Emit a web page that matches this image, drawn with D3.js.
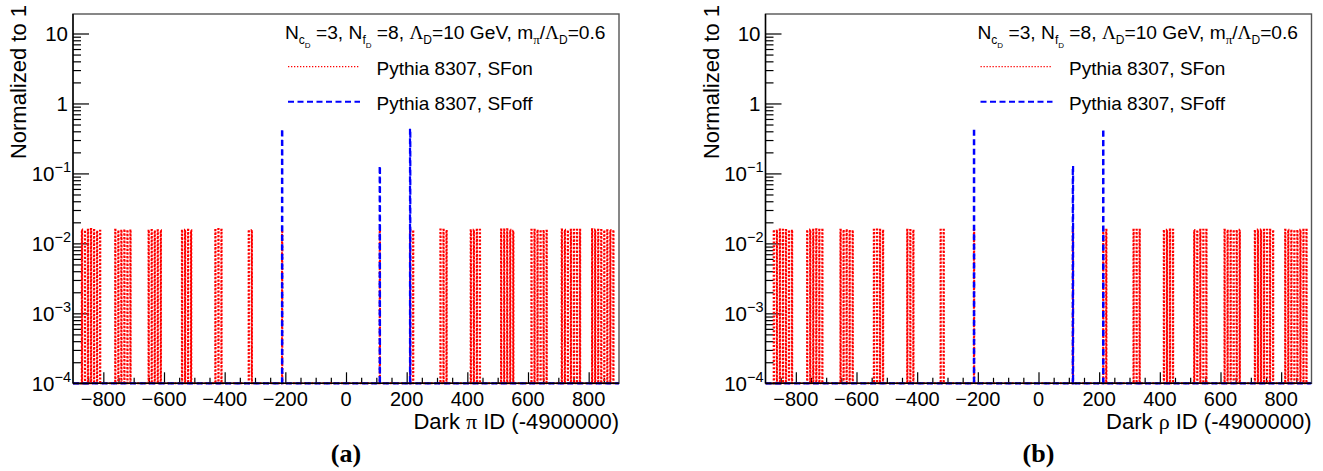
<!DOCTYPE html>
<html>
<head>
<meta charset="utf-8">
<script src="https://cdn.jsdelivr.net/npm/d3@7"></script>
<style>
  html, body { margin: 0; padding: 0; background: #fff; }
  svg { display: block; }
  text { font-family: "Liberation Sans", Arial, Helvetica, sans-serif; fill: #000; }
</style>
</head>
<body>
<svg id="chart" width="1323" height="471"></svg>
<script>
// ---------------- data ----------------
// Dark pion IDs (minus 4900000), SF on
const piSFonIds = [
  -871,-861,-851,-841,-831,-821,-811,
  -761,-751,-741,-731,-721,-711,
  -651,-641,-631,-621,-611,
  -541,-531,-521,-511,
  -431,-421,-411,
  -321,-311,
  -211,
  111,
  211,221,
  311,321,331,
  411,421,431,441,
  511,521,531,541,551,
  611,621,631,641,651,661,
  711,721,731,741,751,761,771,
  811,821,831,841,851,861,871,881
];
const piSFonVals = [
  0.0158,0.0154,0.0157,0.0160,0.0155,0.0153,0.0152,
  0.0157,0.0154,0.0158,0.0160,0.0157,0.0158,
  0.0157,0.0155,0.0153,0.0154,0.0154,
  0.0158,0.0157,0.0156,0.0154,
  0.0155,0.0161,0.0157,
  0.0157,0.0155,
  0.0156,
  0.0155,
  0.0157,0.0156,
  0.0158,0.0157,0.0156,
  0.0159,0.0157,0.0157,0.0157,
  0.0158,0.0158,0.0159,0.0156,0.0152,
  0.0157,0.0157,0.0157,0.0157,0.0156,0.0152,
  0.0158,0.0157,0.0155,0.0157,0.0157,0.0157,0.0157,
  0.0159,0.0158,0.0157,0.0155,0.0155,0.0154,0.0155,0.0156
];
// Dark pion IDs, SF off
const piSFoffIds = [-211, 111, 211];
const piSFoffVals = [0.435, 0.128, 0.437];

// Dark rho IDs (minus 4900000), SF on
const rhoSFonIds = [
  -873,-863,-853,-843,-833,-823,-813,
  -763,-753,-743,-733,-723,-713,
  -653,-643,-633,-623,-613,
  -543,-533,-523,-513,
  -433,-423,-413,
  -323,-313,
  -213,
  113,
  213,223,
  313,323,333,
  413,423,433,443,
  513,523,533,543,553,
  613,623,633,643,653,663,
  713,723,733,743,753,763,773,
  813,823,833,843,853,863,873,883
];
const rhoSFonVals = [
  0.0157,0.0156,0.0158,0.0157,0.0155,0.0156,0.0157,
  0.0156,0.0158,0.0157,0.0159,0.0157,0.0156,
  0.0156,0.0157,0.0160,0.0157,0.0155,
  0.0157,0.0158,0.0156,0.0157,
  0.0156,0.0155,0.0157,
  0.0157,0.0157,
  0.0156,
  0.0156,
  0.0157,0.0157,
  0.0156,0.0157,0.0157,
  0.0157,0.0157,0.0158,0.0157,
  0.0155,0.0156,0.0156,0.0157,0.0157,
  0.0157,0.0157,0.0158,0.0157,0.0157,0.0157,
  0.0157,0.0158,0.0158,0.0157,0.0157,0.0156,0.0156,
  0.0157,0.0157,0.0158,0.0157,0.0157,0.0157,0.0157,0.0156
];
const rhoSFoffIds = [-213, 113, 213];
const rhoSFoffVals = [0.445, 0.128, 0.432];

// axis ticks
const xMajorTicks = [-800,-600,-400,-200,0,200,400,600,800];
const yMajorTicks = [1e-4,1e-3,1e-2,1e-1,1,10];
const yTickLabels = [["10","−4"],["10","−3"],["10","−2"],["10","−1"],["1",null],["10",null]];
const xDomain = [-900, 900];
const yDomain = [1e-4, 19];

const legendEntries = ["Pythia 8307, SFon", "Pythia 8307, SFoff"];
const yTitle = "Normalized to 1";

const panels = [
  { left: 73, right: 619, caption: "(a)", particle: "π",
    on: [piSFonIds, piSFonVals], off: [piSFoffIds, piSFoffVals] },
  { left: 765.5, right: 1311.5, caption: "(b)", particle: "ρ",
    on: [rhoSFonIds, rhoSFonVals], off: [rhoSFoffIds, rhoSFoffVals] }
];

// ---------------- drawing ----------------
const svg = d3.select("#chart");
svg.append("rect").attr("width", 1323).attr("height", 471).attr("fill", "#fff");

const plotTop = 14, plotBottom = 383.3;

panels.forEach((p, pi) => {
  const g = svg.append("g");
  const x = d3.scaleLinear().domain(xDomain).range([p.left, p.right]);
  const y = d3.scaleLog().domain(yDomain).range([plotBottom, plotTop]);

  const clipId = "clip" + pi;
  svg.append("clipPath").attr("id", clipId).append("rect")
    .attr("x", p.left).attr("y", plotTop - 1).attr("width", p.right - p.left).attr("height", plotBottom - plotTop + 3);

  // frame (top/right)
  g.append("rect").attr("x", p.left).attr("y", plotTop).attr("width", p.right - p.left).attr("height", plotBottom - plotTop)
    .attr("fill", "none").attr("stroke", "#555").attr("stroke-width", 1.4);

  // x ticks
  const xMinor = d3.range(xDomain[0] + 50, xDomain[1], 50).filter(v => v % 200 !== 0);
  g.append("g").attr("transform", `translate(0,${plotBottom})`)
    .call(d3.axisBottom(x).tickValues(xMinor).tickSizeInner(-5.5).tickSizeOuter(0).tickFormat(""))
    .call(a => a.select(".domain").remove())
    .call(a => a.selectAll("line").attr("stroke", "#000").attr("stroke-width", 1.2));
  g.append("g").attr("transform", `translate(0,${plotBottom})`)
    .call(d3.axisBottom(x).tickValues(xMajorTicks).tickSizeInner(-11).tickSizeOuter(0).tickFormat(""))
    .call(a => a.select(".domain").remove())
    .call(a => a.selectAll("line").attr("stroke", "#000").attr("stroke-width", 1.2));

  // y ticks
  const yMinor = [];
  for (let e = -4; e <= 1; e++) for (let m = 2; m <= 9; m++) {
    const v = m * Math.pow(10, e);
    if (v < yDomain[1]) yMinor.push(v);
  }
  g.append("g").attr("transform", `translate(${p.left},0)`)
    .call(d3.axisLeft(y).tickValues(yMinor).tickSizeInner(-8).tickSizeOuter(0).tickFormat(""))
    .call(a => a.select(".domain").remove())
    .call(a => a.selectAll("line").attr("stroke", "#000").attr("stroke-width", 1.2));
  g.append("g").attr("transform", `translate(${p.left},0)`)
    .call(d3.axisLeft(y).tickValues(yMajorTicks).tickSizeInner(-16).tickSizeOuter(0).tickFormat(""))
    .call(a => a.select(".domain").remove())
    .call(a => a.selectAll("line").attr("stroke", "#000").attr("stroke-width", 1.2));

  // histograms (step outlines)
  const stepPoints = (ids, vals) => {
    const m = new Map(ids.map((id, i) => [id, vals[i]]));
    const pts = [];
    for (let b = xDomain[0]; b < xDomain[1]; b++) {
      const v = m.get(b) || 0;
      pts.push([b, v], [b + 1, v]);
    }
    return pts;
  };
  const line = d3.line()
    .x(d => x(d[0]))
    .y(d => y(Math.max(d[1], yDomain[0])));
  const hg = g.append("g").attr("clip-path", `url(#${clipId})`);
  hg.append("path").attr("d", line(stepPoints(p.on[0], p.on[1])))
    .attr("fill", "none").attr("stroke", "#ff0000").attr("stroke-width", 2)
    .attr("stroke-dasharray", "2 1.7");
  hg.append("path").attr("d", line(stepPoints(p.off[0], p.off[1])))
    .attr("fill", "none").attr("stroke", "#0000ff").attr("stroke-width", 2.2)
    .attr("stroke-dasharray", "6 3.5");

  // axis lines
  g.append("line").attr("x1", p.left).attr("x2", p.right).attr("y1", plotBottom).attr("y2", plotBottom)
    .attr("stroke", "#000").attr("stroke-width", 1.4);
  g.append("line").attr("x1", p.left).attr("x2", p.left).attr("y1", plotTop).attr("y2", plotBottom)
    .attr("stroke", "#000").attr("stroke-width", 1.4);

  // x tick labels
  g.selectAll(".xl").data(xMajorTicks).enter().append("text")
    .attr("x", d => x(d)).attr("y", 405.5).attr("text-anchor", "middle")
    .attr("font-size", 20).text(d => d < 0 ? "−" + Math.abs(d) : String(d));

  // y tick labels
  yMajorTicks.forEach((v, i) => {
    const [base, sup] = yTickLabels[i];
    const t = g.append("text").attr("y", y(v) + 7.3).attr("text-anchor", "end")
      .attr("x", p.left - (sup ? 2 : 5)).attr("font-size", 20.5);
    t.append("tspan").text(base);
    if (sup) t.append("tspan").attr("font-size", 14.5).attr("dy", -8.5).text(sup);
  });

  // axis titles
  const xt = g.append("text").attr("x", p.right).attr("y", 429).attr("text-anchor", "end").attr("font-size", 22);
  xt.append("tspan").text("Dark ");
  xt.append("tspan").style("font-family", "'Liberation Serif', serif").text(p.particle);
  xt.append("tspan").text(" ID (-4900000)");

  g.append("text").attr("transform", `translate(${p.left - 47},5) rotate(-90)`)
    .attr("text-anchor", "end").attr("font-size", 22).text(yTitle);

  // legend header
  const lx = p.left + 212;
  const fsz = 19.2;
  const h = g.append("text").attr("x", lx).attr("y", 39).attr("font-size", fsz).attr("xml:space", "preserve");
  const parts = [
    ["N", fsz, 0], ["c", 12, 5], ["D", 8, 4], [" =3, N", fsz, -9],
    ["f", 12, 5], ["D", 8, 4], [" =8, ", fsz, -9], ["Λ", fsz, 0, true], ["D", 12, 5],
    ["=10 GeV, m", fsz, -5], ["π", 13, 5, true], ["/", fsz, -5], ["Λ", fsz, 0, true], ["D", 12, 5], ["=0.6", fsz, -5]
  ];
  parts.forEach(([s, fs, dy, serif]) => {
    const ts = h.append("tspan").attr("font-size", fs).attr("dy", dy).text(s);
    if (serif) ts.style("font-family", "'Liberation Serif', serif");
  });

  // legend entries
  const sx0 = p.left + 215, sx1 = p.left + 287;
  g.append("line").attr("x1", sx0).attr("x2", sx1).attr("y1", 66.7).attr("y2", 66.7)
    .attr("stroke", "#ff0000").attr("stroke-width", 1.3).attr("stroke-dasharray", "1.3 1.7");
  g.append("line").attr("x1", sx0).attr("x2", sx1).attr("y1", 101.7).attr("y2", 101.7)
    .attr("stroke", "#0000ff").attr("stroke-width", 2).attr("stroke-dasharray", "6 3.5");
  g.append("text").attr("x", p.left + 303.5).attr("y", 75).attr("font-size", 19).text(legendEntries[0]);
  g.append("text").attr("x", p.left + 303.5).attr("y", 110).attr("font-size", 19).text(legendEntries[1]);

  // caption
  g.append("text").attr("x", (p.left + p.right) / 2).attr("y", 462).attr("text-anchor", "middle")
    .attr("font-size", 26).attr("font-weight", "bold")
    .style("font-family", "'Liberation Serif', 'Times New Roman', serif").text(p.caption);
});
</script>
</body>
</html>
